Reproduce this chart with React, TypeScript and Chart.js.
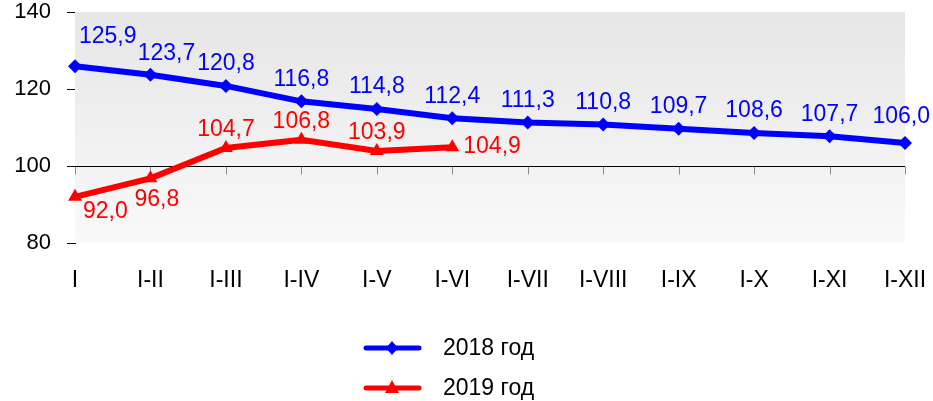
import React, { useEffect, useRef } from "react";
import { Chart, registerables } from "chart.js";

Chart.register(...registerables);

const categories = ["I", "I-II", "I-III", "I-IV", "I-V", "I-VI", "I-VII", "I-VIII", "I-IX", "I-X", "I-XI", "I-XII"];
const series2018 = [125.9, 123.7, 120.8, 116.8, 114.8, 112.4, 111.3, 110.8, 109.7, 108.6, 107.7, 106.0];
const series2019 = [92.0, 96.8, 104.7, 106.8, 103.9, 104.9, null, null, null, null, null, null];
const seriesNames = ["2018 год", "2019 год"];
const seriesColors = ["#0000ff", "#ff0000"];
const yMin = 80;
const yMax = 140;
const yStep = 20;
const baseValue = 100;

const FONT = "Liberation Sans, Arial, sans-serif";

const fmt = (v: number) => v.toFixed(1).replace(".", ",");

const bgPlugin = {
  id: "bgPlugin",
  beforeDatasetsDraw(chart: any) {
    const { ctx, chartArea } = chart;
    const { left, right, top, bottom } = chartArea;
    ctx.save();
    const g = ctx.createLinearGradient(0, top, 0, bottom);
    g.addColorStop(0, "#e6e6e6");
    g.addColorStop(1, "#f9f9f9");
    ctx.fillStyle = g;
    ctx.fillRect(left, top, right - left, bottom - top);
    const y = Math.round(chart.scales.y.getPixelForValue(baseValue)) + 0.5;
    ctx.strokeStyle = "#8c8c8c";
    ctx.lineWidth = 1;
    const xs = chart.scales.x;
    for (let i = 0; i < categories.length; i++) {
      const x = Math.round(xs.getPixelForValue(i)) + 0.5;
      ctx.beginPath();
      ctx.moveTo(x, y);
      ctx.lineTo(x, y + 8);
      ctx.stroke();
    }
    ctx.strokeStyle = "#000";
    ctx.beginPath();
    ctx.moveTo(left, y);
    ctx.lineTo(right, y);
    ctx.stroke();
    ctx.restore();
  },
};

const labelPlugin = {
  id: "labelPlugin",
  afterDatasetsDraw(chart: any) {
    const { ctx } = chart;
    ctx.save();
    ctx.font = `23px ${FONT}`;
    chart.data.datasets.forEach((ds: any, di: number) => {
      const meta = chart.getDatasetMeta(di);
      const n = ds.data.filter((v: any) => v !== null).length;
      ctx.fillStyle = seriesColors[di];
      meta.data.forEach((pt: any, i: number) => {
        const v = ds.data[i];
        if (v === null || v === undefined) return;
        const x = pt.x;
        const y = pt.y;
        ctx.textBaseline = "middle";
        if (di === 0) {
          if (i === 0) {
            ctx.textAlign = "left";
            ctx.fillText(fmt(v), x + 4, y - 30);
          } else if (i === 1) {
            ctx.textAlign = "center";
            ctx.fillText(fmt(v), x + 16, y - 21);
          } else if (i === n - 1) {
            ctx.textAlign = "right";
            ctx.fillText(fmt(v), x + 25, y - 26);
          } else {
            ctx.textAlign = "center";
            ctx.fillText(fmt(v), x, y - 22);
          }
        } else {
          if (v < baseValue) {
            ctx.textAlign = "left";
            ctx.fillText(fmt(v), x + (i === 0 ? 8 : -16), y + (i === 0 ? 15 : 21));
          } else if (i === n - 1) {
            ctx.textAlign = "left";
            ctx.fillText(fmt(v), x + 11, y);
          } else {
            ctx.textAlign = "center";
            ctx.fillText(fmt(v), x, y - 18);
          }
        }
      });
    });
    ctx.restore();
  },
};

const legendPlugin = {
  id: "legendPlugin",
  afterDraw(chart: any) {
    const { ctx } = chart;
    ctx.save();
    const rows = [348, 388];
    rows.forEach((ry, i) => {
      ctx.strokeStyle = seriesColors[i];
      ctx.fillStyle = seriesColors[i];
      ctx.lineWidth = 5;
      ctx.lineCap = "round";
      ctx.beginPath();
      ctx.moveTo(366, ry);
      ctx.lineTo(419, ry);
      ctx.stroke();
      const cx = 392;
      ctx.beginPath();
      if (i === 0) {
        ctx.moveTo(cx, ry - 7);
        ctx.lineTo(cx + 6, ry);
        ctx.lineTo(cx, ry + 7);
        ctx.lineTo(cx - 6, ry);
      } else {
        ctx.moveTo(cx, ry - 8);
        ctx.lineTo(cx + 7, ry + 5);
        ctx.lineTo(cx - 7, ry + 5);
      }
      ctx.closePath();
      ctx.fill();
      ctx.fillStyle = "#000";
      ctx.font = `23px ${FONT}`;
      ctx.textAlign = "left";
      ctx.textBaseline = "middle";
      ctx.fillText(seriesNames[i], 443, ry + 1);
    });
    ctx.restore();
  },
};

export default function App() {
  const ref = useRef<HTMLCanvasElement | null>(null);
  useEffect(() => {
    if (!ref.current) return;
    const chart = new Chart(ref.current, {
      type: "line",
      data: {
        labels: categories,
        datasets: [
          {
            label: seriesNames[0],
            data: series2018,
            borderColor: seriesColors[0],
            backgroundColor: seriesColors[0],
            borderWidth: 6,
            pointStyle: "rectRot",
            pointRadius: 7,
            pointBorderWidth: 0,
            tension: 0,
          },
          {
            label: seriesNames[1],
            data: series2019,
            borderColor: seriesColors[1],
            backgroundColor: seriesColors[1],
            borderWidth: 6,
            pointStyle: "triangle",
            pointRadius: 8,
            pointBorderWidth: 0,
            tension: 0,
            spanGaps: false,
          },
        ],
      },
      options: {
        responsive: false,
        animation: false,
        devicePixelRatio: 1,
        layout: { padding: { top: 12, right: 28, left: 0, bottom: 0 } },
        plugins: {
          legend: { display: false },
          tooltip: { enabled: false },
          title: { display: false },
        },
        scales: {
          x: {
            type: "category",
            offset: false,
            grid: { display: false, drawTicks: false },
            border: { display: false },
            ticks: {
              color: "#000",
              font: { family: FONT, size: 23 },
              padding: 24,
              maxRotation: 0,
              autoSkip: false,
            },
            afterFit: (s: any) => {
              s.height = 158;
              s.paddingLeft = 0;
              s.paddingRight = 0;
            },
          },
          y: {
            min: yMin,
            max: yMax,
            grid: {
              drawOnChartArea: false,
              drawTicks: true,
              tickLength: 8,
              color: "#000",
            },
            border: { display: true, color: "#000", width: 1 },
            ticks: {
              stepSize: yStep,
              color: "#000",
              font: { family: FONT, size: 22 },
              padding: 16,
            },
            afterFit: (s: any) => {
              s.width = 75;
              s.paddingTop = 0;
              s.paddingBottom = 0;
            },
          },
        },
      },
      plugins: [bgPlugin, labelPlugin, legendPlugin],
    });
    return () => chart.destroy();
  }, []);
  return (
    <div style={{ position: "absolute", left: 0, top: 0, width: 933, height: 401, background: "#fff" }}>
      <canvas ref={ref} width={933} height={401} />
    </div>
  );
}
